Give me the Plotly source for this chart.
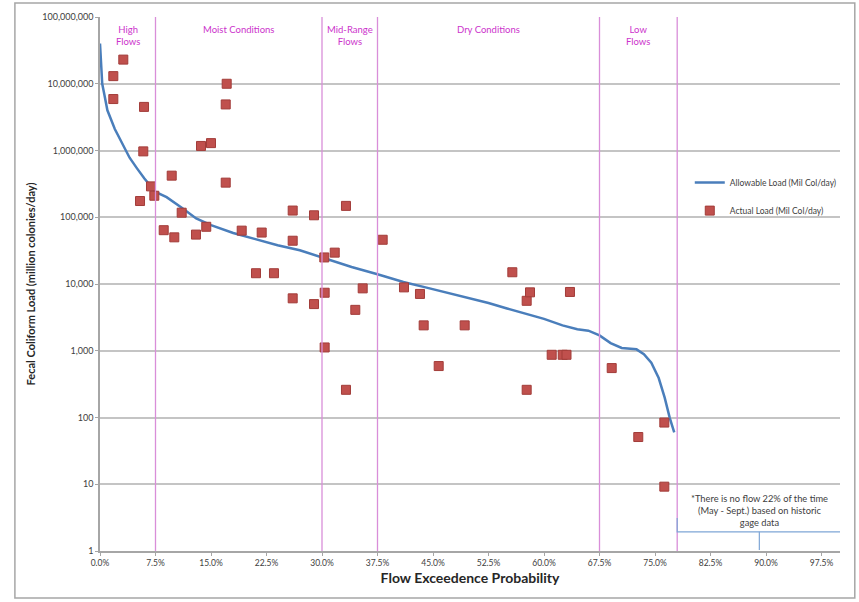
import plotly.graph_objects as go

# Allowable load curve (flow exceedance fraction, million colonies/day)
allow_x = [0.000, 0.003, 0.006, 0.010, 0.020, 0.030, 0.040, 0.050, 0.060, 0.075,
           0.090, 0.110, 0.130, 0.150, 0.180, 0.210, 0.240, 0.270, 0.300, 0.340,
           0.375, 0.410, 0.440, 0.480, 0.525, 0.550, 0.580, 0.600, 0.625, 0.645,
           0.660, 0.675, 0.690, 0.705, 0.725, 0.735, 0.745, 0.755, 0.763, 0.770, 0.776]
allow_y = [4.0e7, 1.0e7, 6.8e6, 4.0e6, 2.1e6, 1.3e6, 7.8e5, 5.4e5, 3.8e5, 2.4e5,
           2.0e5, 1.4e5, 9.6e4, 7.6e4, 5.8e4, 4.7e4, 3.8e4, 3.2e4, 2.5e4, 1.8e4,
           1.4e4, 1.07e4, 8.9e3, 6.9e3, 5.2e3, 4.3e3, 3.5e3, 3.0e3, 2.4e3, 2.1e3,
           2.0e3, 1.7e3, 1.3e3, 1.1e3, 1.05e3, 8.9e2, 6.6e2, 3.9e2, 2.0e2, 98, 60]

# Actual load samples
actual_x = [0.0180, 0.0180, 0.0315, 0.0595, 0.0585, 0.0689, 0.0734, 0.0541, 0.0969, 0.0861,
            0.1004, 0.1104, 0.1297, 0.1365, 0.1436, 0.1500, 0.1712, 0.1699, 0.1699, 0.1915,
            0.2185, 0.2108, 0.2351, 0.2604, 0.2604, 0.2604, 0.2892, 0.2892, 0.3031, 0.3172,
            0.3036, 0.3036, 0.3324, 0.3324, 0.3450, 0.3550, 0.3820, 0.4108, 0.4324, 0.4374,
            0.4577, 0.4928, 0.5572, 0.5766, 0.5811, 0.5766, 0.6104, 0.6253, 0.6304, 0.6351,
            0.6915, 0.7274, 0.7626, 0.7626]
actual_y = [1.3e7, 5.9e6, 2.3e7, 4.5e6, 9.7e5, 2.9e5, 2.1e5, 1.75e5, 4.2e5, 6.4e4,
            5.0e4, 1.17e5, 5.5e4, 1.17e6, 7.2e4, 1.29e6, 1.0e7, 4.9e6, 3.3e5, 6.3e4,
            5.9e4, 1.45e4, 1.45e4, 1.26e5, 4.45e4, 6.1e3, 1.07e5, 5.0e3, 2.5e4, 2.95e4,
            7.4e3, 1.12e3, 1.48e5, 2.6e2, 4.1e3, 8.6e3, 4.6e4, 8.9e3, 7.1e3, 2.4e3,
            5.9e2, 2.4e3, 1.5e4, 5.6e3, 7.5e3, 2.6e2, 8.7e2, 8.7e2, 8.7e2, 7.6e3,
            5.5e2, 51, 84, 9.2]

# Flow zones
zone_bounds = [0.075, 0.30, 0.375, 0.675, 0.78]
zone_centers = [0.0375, 0.1875, 0.3375, 0.525, 0.7275]
zone_labels = ["High<br>Flows", "Moist Conditions", "Mid-Range<br>Flows", "Dry Conditions", "Low<br>Flows"]

y_ticks = [1, 10, 100, 1000, 10000, 100000, 1000000, 10000000, 100000000]
y_tick_text = ["1", "10", "100", "1,000", "10,000", "100,000", "1,000,000", "10,000,000", "100,000,000"]

note_text = "*There is no flow 22% of the time<br>(May - Sept.) based on historic<br>gage data"

FONT = "Lato, Open Sans, sans-serif"

fig = go.Figure()
fig.add_trace(go.Scatter(
    x=allow_x, y=allow_y, mode="lines", name="Allowable Load (Mil Col/day)",
    line=dict(color="#4A7EBB", width=2.5), legendgroup="a"))
fig.add_trace(go.Scatter(
    x=actual_x, y=actual_y, mode="markers", name="Actual Load (Mil Col/day)",
    marker=dict(symbol="square", size=9, color="#C0504D",
                line=dict(color="#A23C39", width=1)), legendgroup="b"))

shapes = []
for b in zone_bounds:
    shapes.append(dict(type="line", xref="x", yref="paper", x0=b, x1=b, y0=0, y1=1,
                       line=dict(color="#D98ED9", width=1.3), layer="above"))
# bracket under the note
bx0, bx1, bxm = 0.78, 1.0036, 0.891
shapes.append(dict(type="path", xref="x", yref="paper",
                   path=f"M {bx0},0.062 L {bx0},0.036 L {bx1},0.036 L {bx1},0.062",
                   line=dict(color="#7FA6D6", width=1.2)))
shapes.append(dict(type="line", xref="x", yref="paper", x0=bxm, x1=bxm, y0=0.036, y1=0.002,
                   line=dict(color="#7FA6D6", width=1.2)))
# outer chart border
shapes.append(dict(type="rect", xref="paper", yref="paper", x0=-0.115, x1=1.020,
                   y0=-0.088, y1=1.026, line=dict(color="#A6A6A6", width=1.5)))

annotations = []
for c, lab in zip(zone_centers, zone_labels):
    annotations.append(dict(x=c, xref="x", y=0.99, yref="paper", yanchor="top",
                            text=lab, showarrow=False,
                            font=dict(family=FONT, size=9.5, color="#CC33CC")))
annotations.append(dict(x=bxm, xref="x", y=0.076, yref="paper", yanchor="middle",
                        text=note_text, showarrow=False, align="center",
                        font=dict(family=FONT, size=9.3, color="#404040")))

fig.update_layout(
    width=859, height=602, autosize=False,
    margin=dict(l=100, r=19, t=17, b=51),
    paper_bgcolor="white", plot_bgcolor="white",
    font=dict(family=FONT, size=8, color="#404040"),
    shapes=shapes, annotations=annotations,
    showlegend=True,
    legend=dict(x=0.797, y=0.717, xanchor="left", yanchor="top",
                font=dict(family=FONT, size=8.5, color="#404040"),
                bgcolor="rgba(0,0,0,0)", tracegroupgap=9, itemwidth=30),
    xaxis=dict(range=[0, 1], tickmode="array",
               tickvals=[i * 0.075 for i in range(14)],
               tickformat=".1%", showgrid=False, zeroline=False,
               showline=True, linecolor="#A6A6A6", linewidth=1.5,
               ticks="outside", ticklen=3, tickcolor="#A6A6A6",
               tickfont=dict(family=FONT, size=8.5, color="#404040"),
               title=dict(text="<b>Flow Exceedence Probability</b>", standoff=6,
                          font=dict(family=FONT, size=14, color="#262626"))),
    yaxis=dict(type="log", range=[0, 8], tickvals=y_ticks, ticktext=y_tick_text,
               showgrid=True, gridcolor="#C4C4C4", gridwidth=2,
               showline=True, linecolor="#A6A6A6", linewidth=1.5,
               ticks="outside", ticklen=3, tickcolor="#A6A6A6", zeroline=False,
               tickfont=dict(family=FONT, size=9, color="#404040"),
               title=dict(text="<b>Fecal Coliform Load (million colonies/day)</b>", standoff=5,
                          font=dict(family=FONT, size=11, color="#262626"))),
)

fig.write_html("out.html", config={"responsive": False, "displayModeBar": False},
               post_script="document.body.style.margin='0';document.body.style.overflow='hidden';")
